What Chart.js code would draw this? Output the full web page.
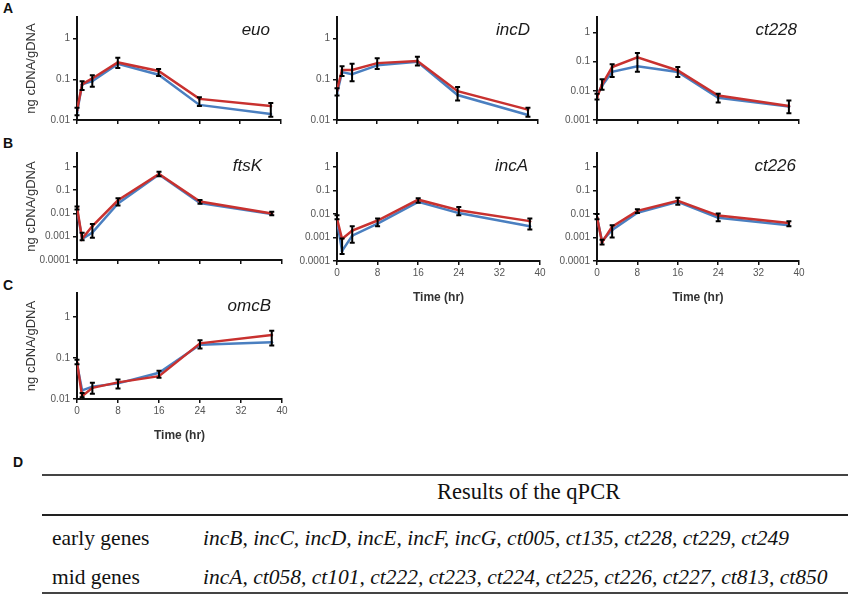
<!DOCTYPE html>
<html>
<head>
<meta charset="utf-8">
<script src="https://cdn.jsdelivr.net/npm/chart.js@4.4.1/dist/chart.umd.min.js"></script>
<style>
  body { margin: 0; background: #fff; font-family: "Liberation Sans", Arial, sans-serif; }
  #page { position: relative; width: 850px; height: 597px; overflow: hidden; }
  .box { position: absolute; }
  .tag { position: absolute; font-weight: bold; font-size: 14px; color: #111; line-height: 1; }
  .rule { position: absolute; left: 42px; width: 806px; background: #444; }
  .cell { position: absolute; font-family: "Liberation Serif", "Times New Roman", serif; font-size: 21.5px; color: #111; white-space: nowrap; line-height: 1; }
  .it { font-style: italic; }
</style>
</head>
<body>
<div id="page">
  <div class="tag" style="left:3px;top:1px">A</div>
  <div class="tag" style="left:3px;top:136px">B</div>
  <div class="tag" style="left:3px;top:278px">C</div>
  <div class="tag" style="left:13px;top:455px">D</div>

  <div class="rule" style="top:474px;height:2px"></div>
  <div class="rule" style="top:514px;height:2px;background:#222"></div>
  <div class="rule" style="top:592px;height:2px"></div>
  <div class="cell" style="left:437px;top:481px;font-size:22.5px">Results of the qPCR</div>
  <div class="cell" style="left:52px;top:528px">early genes</div>
  <div class="cell it" style="left:203px;top:528px">incB, incC, incD, incE, incF, incG, ct005, ct135, ct228, ct229, ct249</div>
  <div class="cell" style="left:52px;top:567px">mid genes</div>
  <div class="cell it" style="left:203px;top:567px">incA, ct058, ct101, ct222, ct223, ct224, ct225, ct226, ct227, ct813, ct850</div>
</div>

<script>
// sampling times (hr) and axis ticks
const hours = [0, 1, 3, 8, 16, 24, 38];
const xTicks = [0, 8, 16, 24, 32, 40];
const yTicksA = [0.01, 0.1, 1];
const yTicksCt228 = [0.001, 0.01, 0.1, 1];
const yTicksB = [0.0001, 0.001, 0.01, 0.1, 1];
const yTickLabels = { 1: '1', 0.1: '0.1', 0.01: '0.01', 0.001: '0.001', 0.0001: '0.0001' };

// ng cDNA / gDNA, blue and red series, error bars as [low, high]
const euoBlue = [0.015, 0.075, 0.09, 0.24, 0.13, 0.0235, 0.014];
const euoRed  = [0.017, 0.075, 0.105, 0.26, 0.16, 0.033, 0.022];
const euoErr  = [[0.013, 0.02], [0.055, 0.09], [0.066, 0.125], [0.19, 0.34], [0.12, 0.18], [0.022, 0.036], [0.012, 0.026]];

const incDBlue = [0.045, 0.15, 0.133, 0.22, 0.27, 0.041, 0.0133];
const incDRed  = [0.053, 0.17, 0.17, 0.25, 0.28, 0.051, 0.018];
const incDErr  = [[0.04, 0.06], [0.12, 0.21], [0.09, 0.24], [0.18, 0.33], [0.22, 0.36], [0.03, 0.065], [0.012, 0.02]];

const ct228Blue = [0.007, 0.015, 0.045, 0.069, 0.044, 0.0058, 0.0029];
const ct228Red  = [0.006, 0.0165, 0.065, 0.14, 0.05, 0.0069, 0.003];
const ct228Err  = [[0.005, 0.008], [0.011, 0.025], [0.03, 0.082], [0.045, 0.2], [0.03, 0.065], [0.004, 0.008], [0.0017, 0.0047]];

const ftsKBlue = [0.015, 0.0008, 0.0015, 0.027, 0.48, 0.028, 0.0095];
const ftsKRed  = [0.0186, 0.00081, 0.0029, 0.037, 0.5, 0.033, 0.01];
const ftsKErr  = [[0.015, 0.02], [0.0007, 0.0015], [0.0009, 0.0035], [0.022, 0.045], [0.4, 0.62], [0.026, 0.038], [0.0085, 0.012]];

const incABlue = [0.005, 0.00027, 0.0012, 0.0039, 0.033, 0.011, 0.003];
const incARed  = [0.0063, 0.00087, 0.002, 0.0053, 0.041, 0.0145, 0.005];
const incAErr  = [[0.006, 0.009], [0.0002, 0.0009], [0.0006, 0.003], [0.003, 0.0065], [0.03, 0.047], [0.009, 0.02], [0.0022, 0.0065]];

const ct226Blue = [0.007, 0.0007, 0.0021, 0.0113, 0.033, 0.0069, 0.0033];
const ct226Red  = [0.0073, 0.00063, 0.0029, 0.0137, 0.037, 0.0086, 0.0042];
const ct226Err  = [[0.006, 0.01], [0.0005, 0.0008], [0.001, 0.0033], [0.011, 0.016], [0.025, 0.05], [0.005, 0.0105], [0.003, 0.005]];

const omcBBlue = [0.07, 0.0162, 0.02, 0.024, 0.0435, 0.21, 0.24];
const omcBRed  = [0.078, 0.0117, 0.0187, 0.0254, 0.036, 0.226, 0.36];
const omcBErr  = [[0.07, 0.09], [0.011, 0.014], [0.0135, 0.025], [0.018, 0.03], [0.033, 0.049], [0.17, 0.27], [0.2, 0.46]];

const BLUE = '#4a7fc0';
const RED = '#c8312f';

const panels = [
  { gene: 'euo',   blue: euoBlue,   red: euoRed,   err: euoErr,   yTicks: yTicksA,     yMax: 3.4, left: 77,  top: 12,  w: 204, h: 109, yTitle: true,  xLabels: false, inset: 11 },
  { gene: 'incD',  blue: incDBlue,  red: incDRed,  err: incDErr,  yTicks: yTicksA,     yMax: 3.4, left: 337, top: 12,  w: 201, h: 109, yTitle: false, xLabels: false, inset: 8 },
  { gene: 'ct228', blue: ct228Blue, red: ct228Red, err: ct228Err, yTicks: yTicksCt228, yMax: 3.4, left: 597, top: 12,  w: 202, h: 109, yTitle: false, xLabels: false, inset: 2 },
  { gene: 'ftsK',  blue: ftsKBlue,  red: ftsKRed,  err: ftsKErr,  yTicks: yTicksB,     yMax: 4,   left: 77,  top: 148, w: 205, h: 113, yTitle: true,  xLabels: false, inset: 20 },
  { gene: 'incA',  blue: incABlue,  red: incARed,  err: incAErr,  yTicks: yTicksB,     yMax: 4,   left: 337, top: 148, w: 203, h: 113, yTitle: false, xLabels: true,  inset: 12 },
  { gene: 'ct226', blue: ct226Blue, red: ct226Red, err: ct226Err, yTicks: yTicksB,     yMax: 4,   left: 597, top: 148, w: 202, h: 113, yTitle: false, xLabels: true,  inset: 3 },
  { gene: 'omcB',  blue: omcBBlue,  red: omcBRed,  err: omcBErr,  yTicks: yTicksA,     yMax: 3.8, left: 77,  top: 288, w: 205, h: 111, yTitle: true,  xLabels: true,  inset: 11 }
];

const geneLabel = {
  id: 'geneLabel',
  afterDraw(chart, args, opts) {
    const { ctx, chartArea } = chart;
    ctx.save();
    ctx.font = 'italic 17px "Liberation Sans", Arial, sans-serif';
    ctx.fillStyle = '#1a1a1a';
    ctx.textAlign = 'right';
    ctx.textBaseline = 'middle';
    ctx.fillText(opts.text, chartArea.right - opts.inset, chartArea.top + 13);
    ctx.restore();
  }
};

const errorBars = {
  id: 'errorBars',
  afterDatasetsDraw(chart, args, opts) {
    const xs = chart.scales.x, ys = chart.scales.y, ctx = chart.ctx;
    ctx.save();
    ctx.strokeStyle = '#000';
    ctx.lineWidth = 2;
    opts.bars.forEach((b, i) => {
      const px = xs.getPixelForValue(hours[i]);
      const lo = ys.getPixelForValue(b[0]);
      const hi = ys.getPixelForValue(b[1]);
      ctx.beginPath();
      ctx.moveTo(px, lo); ctx.lineTo(px, hi);
      ctx.moveTo(px - 2.5, lo); ctx.lineTo(px + 2.5, lo);
      ctx.moveTo(px - 2.5, hi); ctx.lineTo(px + 2.5, hi);
      ctx.stroke();
    });
    ctx.restore();
  }
};

const page = document.getElementById('page');
const PAD_T = 4, PAD_R = 12;

panels.forEach(p => {
  const yw = p.yTitle ? p.left - 20 : 45;
  const xh = p.xLabels ? 48 : 8;
  const box = document.createElement('div');
  box.className = 'box';
  box.style.left = (p.left - yw) + 'px';
  box.style.top = (p.top - PAD_T) + 'px';
  box.style.width = (yw + p.w + PAD_R) + 'px';
  box.style.height = (PAD_T + p.h + xh) + 'px';
  const cv = document.createElement('canvas');
  box.appendChild(cv);
  page.appendChild(box);

  new Chart(cv, {
    type: 'line',
    data: {
      datasets: [
        { data: hours.map((t, i) => ({ x: t, y: p.blue[i] })), borderColor: BLUE, backgroundColor: BLUE, order: 2,
          borderWidth: 2.5, pointRadius: 1.5, pointBorderWidth: 0, tension: 0 },
        { data: hours.map((t, i) => ({ x: t, y: p.red[i] })), borderColor: RED, backgroundColor: RED, order: 1,
          borderWidth: 2.5, pointRadius: 1.5, pointBorderWidth: 0, tension: 0 }
      ]
    },
    options: {
      responsive: true,
      maintainAspectRatio: false,
      animation: false,
      devicePixelRatio: 1,
      layout: { padding: { top: PAD_T, right: PAD_R, left: 0, bottom: 0 } },
      plugins: {
        legend: { display: false },
        tooltip: { enabled: false },
        geneLabel: { text: p.gene, inset: p.inset },
        errorBars: { bars: p.err }
      },
      scales: {
        x: {
          type: 'linear', min: 0, max: 40,
          afterBuildTicks: s => { s.ticks = xTicks.map(v => ({ value: v })); },
          afterFit: s => { s.height = xh; },
          border: { display: true, color: '#111', width: 2 },
          grid: { drawOnChartArea: false, drawTicks: true, tickLength: 4, color: '#111', lineWidth: 1.5 },
          ticks: { display: p.xLabels, color: '#555', font: { size: 10, family: '"Liberation Sans", Arial' }, padding: 2, maxRotation: 0 },
          title: { display: p.xLabels, text: 'Time (hr)', color: '#333', font: { size: 12, weight: 'bold', family: '"Liberation Sans", Arial' } }
        },
        y: {
          type: 'logarithmic', min: p.yTicks[0], max: p.yMax,
          afterBuildTicks: s => { s.ticks = p.yTicks.map(v => ({ value: v })); },
          afterFit: s => { s.width = yw; },
          border: { display: true, color: '#111', width: 2 },
          grid: { drawOnChartArea: false, drawTicks: true, tickLength: 4, color: '#111', lineWidth: 1.5 },
          ticks: { color: '#555', font: { size: 10, family: '"Liberation Sans", Arial' }, padding: 3,
            callback: v => yTickLabels[v] },
          title: { display: p.yTitle, text: 'ng cDNA/gDNA', color: '#333', font: { size: 13, family: '"Liberation Sans", Arial' } }
        }
      }
    },
    plugins: [geneLabel, errorBars]
  });
});
</script>
</body>
</html>
